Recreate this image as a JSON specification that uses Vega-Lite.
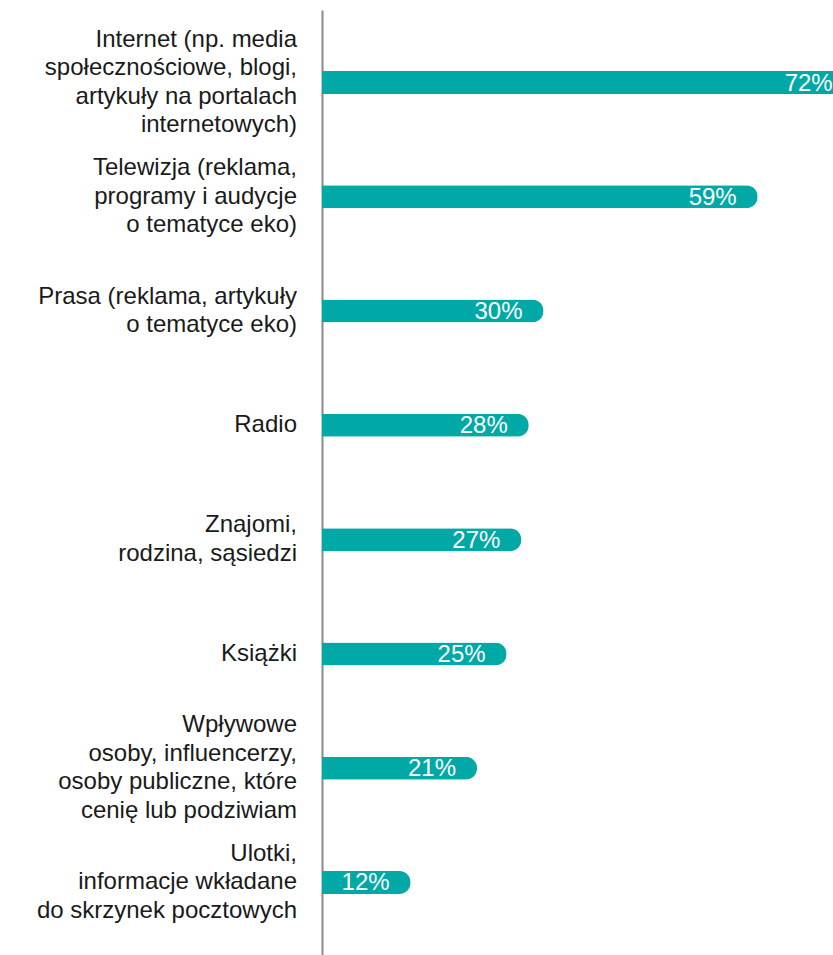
{
  "$schema": "https://vega.github.io/schema/vega-lite/v6.json",
  "width": 511,
  "height": 945,
  "autosize": {"type": "none"},
  "padding": {"left": 322, "top": 10, "right": 0, "bottom": 0},
  "background": "white",
  "config": {"view": {"stroke": null}, "font": "Liberation Sans"},
  "data": {
    "values": [
      {"source": "Internet (np. media|społecznościowe, blogi,|artykuły na portalach|internetowych)", "share": 0.72},
      {"source": "Telewizja (reklama,|programy i audycje|o tematyce eko)", "share": 0.59},
      {"source": "Prasa (reklama, artykuły|o tematyce eko)", "share": 0.30},
      {"source": "Radio", "share": 0.28},
      {"source": "Znajomi,|rodzina, sąsiedzi", "share": 0.27},
      {"source": "Książki", "share": 0.25},
      {"source": "Wpływowe|osoby, influencerzy,|osoby publiczne, które|cenię lub podziwiam", "share": 0.21},
      {"source": "Ulotki,|informacje wkładane|do skrzynek pocztowych", "share": 0.12}
    ]
  },
  "encoding": {
    "y": {
      "field": "source",
      "type": "nominal",
      "sort": null,
      "scale": {"paddingInner": 0, "paddingOuter": 0.135},
      "axis": {
        "title": null,
        "ticks": false,
        "labels": false,
        "domain": true,
        "domainColor": "#8a8a8a",
        "domainWidth": 2
      }
    }
  },
  "layer": [
    {
      "mark": {"type": "bar", "size": 23, "cornerRadiusEnd": 11.5, "color": "#00a9a5"},
      "encoding": {
        "x": {"field": "share", "type": "quantitative", "scale": {"domain": [0, 0.692], "nice": false}, "axis": null}
      }
    },
    {
      "mark": {"type": "text", "align": "right", "baseline": "middle", "dx": -21, "dy": 1, "color": "white", "fontSize": 24},
      "encoding": {
        "x": {"field": "share", "type": "quantitative"},
        "text": {"field": "share", "type": "quantitative", "format": ".0%"}
      }
    },
    {
      "mark": {
        "type": "text",
        "align": "right",
        "baseline": "middle",
        "dx": -25,
        "dy": {"expr": "-(length(split(datum.source, '|')) - 1) * 14.25"},
        "lineBreak": "|",
        "lineHeight": 28.5,
        "color": "#1a1a1a",
        "fontSize": 24
      },
      "encoding": {
        "x": {"datum": 0, "type": "quantitative"},
        "text": {"field": "source", "type": "nominal"}
      }
    }
  ]
}
